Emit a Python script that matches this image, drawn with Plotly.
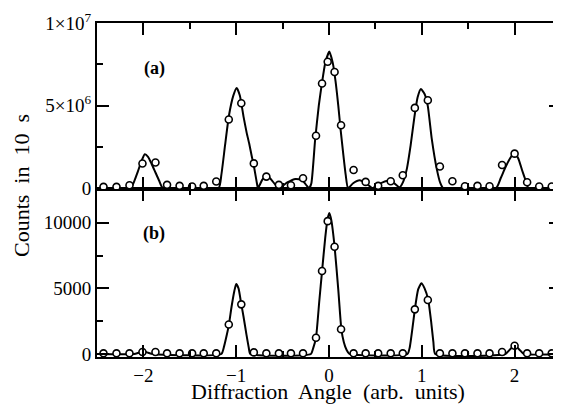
import plotly.graph_objects as go

# measured diffraction angles (common to both panels)
angle = [-2.43, -2.29, -2.15, -2.01, -1.87, -1.745, -1.61, -1.475, -1.35, -1.215,
         -1.08, -0.945, -0.81, -0.675, -0.54, -0.41, -0.28, -0.14, -0.075, -0.014,
         0.06, 0.13, 0.265, 0.395, 0.53, 0.665, 0.795, 0.925, 1.065, 1.195,
         1.33, 1.465, 1.6, 1.73, 1.865, 2.0, 2.135, 2.265, 2.4]

# panel (a) counts, in millions
counts_a_M = [0.08, 0.08, 0.18, 1.49, 1.55, 0.2, 0.14, 0.1, 0.14, 0.4,
              4.16, 5.14, 1.5, 0.7, 0.2, 0.18, 0.6, 3.17, 6.34, 7.65,
              7.03, 3.81, 1.1, 0.38, 0.14, 0.42, 0.78, 4.86, 5.32, 1.31,
              0.42, 0.12, 0.14, 0.12, 1.4, 2.09, 0.36, 0.1, 0.1]

# panel (b) counts
counts_b = [50, 50, 50, 150, 150, 50, 50, 50, 50, 50,
            2250, 3780, 120, 50, 50, 50, 50, 1240, 6320, 10120,
            8170, 1880, 50, 50, 50, 50, 50, 3400, 4110, 50,
            50, 50, 50, 50, 150, 630, 50, 50, 50]

# fitted curve (a), in millions
fit_a_x = [-2.5, -2.14, -2.1, -2.06, -2.02, -1.985, -1.95, -1.91, -1.87, -1.83, -1.79,
           -1.19, -1.16, -1.12, -1.078, -1.031, -0.995, -0.96, -0.92, -0.887, -0.86,
           -0.833, -0.808, -0.78, -0.765,
           -0.72, -0.67, -0.62, -0.54, -0.45, -0.36, -0.29, -0.24, -0.215,
           -0.19, -0.15, -0.11, -0.075, -0.04, 0.003, 0.04, 0.07, 0.1, 0.126, 0.155, 0.18, 0.205,
           0.26, 0.33, 0.4, 0.47, 0.55, 0.63, 0.7, 0.76,
           0.8, 0.84, 0.88, 0.92, 0.955, 0.99, 1.03, 1.064, 1.107, 1.16, 1.2, 1.23,
           1.8, 1.85, 1.9, 1.95, 1.997, 2.04, 2.08, 2.12, 2.15, 2.5]
fit_a_M = [0, 0, 0.4, 1.0, 1.65, 2.05, 1.9, 1.45, 0.95, 0.45, 0,
           0, 0.8, 2.6, 4.4, 5.6, 6.07, 5.6, 4.3, 3.35, 2.7,
           1.95, 1.3, 0.4, 0,
           0.5, 0.78, 0.5, 0, 0.35, 0.56, 0.5, 0.15, 0,
           0.3, 2.9, 5.0, 6.4, 7.6, 8.27, 7.6, 6.5, 5.0, 3.5, 2.0, 0.8, 0,
           0.3, 0.48, 0.3, 0, 0.28, 0.45, 0.3, 0.05,
           0.4, 1.2, 2.6, 4.3, 5.5, 6.0, 5.7, 5.0, 3.0, 1.2, 0.3, 0,
           0, 0.6, 1.25, 1.8, 2.15, 1.8, 1.1, 0.45, 0, 0]

# fitted curve (b)
fit_b_x = [-2.5, -2.1, -2.05, -2.0, -1.95, -1.9,
           -1.16, -1.13, -1.1, -1.078, -1.05, -1.02, -1.0, -0.975, -0.945, -0.92, -0.89, -0.865, -0.848,
           -0.195, -0.17, -0.14, -0.105, -0.075, -0.04, -0.015, 0.003, 0.025, 0.06, 0.1, 0.133, 0.16, 0.19, 0.22,
           0.845, 0.87, 0.9, 0.925, 0.96, 0.995, 1.03, 1.07, 1.1, 1.125, 1.145,
           1.9, 1.95, 2.0, 2.05, 2.1, 2.5]
fit_b = [0, 0, 100, 200, 100, 0,
         0, 600, 1500, 2260, 3600, 4800, 5330, 5000, 3800, 2800, 1500, 500, 0,
         0, 450, 1250, 4000, 6300, 8900, 10300, 10750, 10200, 8200, 4900, 1900, 900, 300, 0,
         0, 500, 2000, 3400, 4900, 5380, 5000, 4100, 2500, 900, 0,
         0, 350, 650, 350, 0, 0]

x_tickvals = [-2, -1, 0, 1, 2]
x_ticktext = ["\u22122", "\u22121", "0", "1", "2"]
ya_tickvals = [0, 5e6, 1e7]
ya_ticktext = ["0", "5\u00d710<sup>6</sup>", "1\u00d710<sup>7</sup>"]
yb_tickvals = [0, 5000, 10000]
yb_ticktext = ["0", "5000", "10000"]

FONT = "Liberation Serif"
OFF = 8  # page body margin
W, H = 561 - OFF, 404 - OFF
# plot area in page pixels: left 97, right 561, top 23, bottom 357
L, R, T = 97 - OFF, 0, 23 - OFF
B = H - (357 - OFF)
pw, ph = W - L - R, H - T - B


def px_x(px):
    return (px - OFF - L) / pw


def px_y(py):
    return (H - B - (py - OFF)) / ph


split = px_y(189)

fig = go.Figure()
fig.add_trace(go.Scatter(x=fit_a_x, y=[v * 1e6 for v in fit_a_M], mode="lines",
                         line=dict(color="black", width=2, shape="spline", smoothing=0.5),
                         xaxis="x2", yaxis="y2", showlegend=False, hoverinfo="skip"))
fig.add_trace(go.Scatter(x=angle, y=[v * 1e6 for v in counts_a_M], mode="markers",
                         marker=dict(symbol="circle", size=7, color="white",
                                     line=dict(color="black", width=1.6)),
                         xaxis="x2", yaxis="y2", showlegend=False))
fig.add_trace(go.Scatter(x=fit_b_x, y=fit_b, mode="lines",
                         line=dict(color="black", width=2, shape="spline", smoothing=0.5),
                         xaxis="x", yaxis="y", showlegend=False, hoverinfo="skip"))
fig.add_trace(go.Scatter(x=angle, y=counts_b, mode="markers",
                         marker=dict(symbol="circle", size=7, color="white",
                                     line=dict(color="black", width=1.6)),
                         xaxis="x", yaxis="y", showlegend=False))

axis_common = dict(showline=True, linecolor="black", linewidth=2, mirror="allticks",
                   ticks="inside", ticklen=12, tickwidth=1.5, tickcolor="black",
                   showgrid=False, zeroline=False, automargin=False,
                   tickfont=dict(family=FONT, size=19, color="black"))

fig.update_layout(
    width=W, height=H,
    margin=dict(l=L, r=R, t=T, b=B, pad=0),
    paper_bgcolor="white", plot_bgcolor="white",
    xaxis=dict(domain=[0, 1], anchor="y", range=[-2.5, 2.5],
               tickvals=x_tickvals, ticktext=x_ticktext,
               minor=dict(ticks="inside", ticklen=6, tickwidth=1.5, tickcolor="black", dtick=0.5, tick0=0.5),
               **axis_common),
    xaxis2=dict(domain=[0, 1], anchor="y2", range=[-2.5, 2.5], matches="x",
                tickvals=x_tickvals, showticklabels=False,
                minor=dict(ticks="inside", ticklen=6, tickwidth=1.5, tickcolor="black", dtick=0.5, tick0=0.5),
                **axis_common),
    yaxis=dict(domain=[0, split], anchor="x", range=[-230, 12570],
               tickvals=yb_tickvals, ticktext=yb_ticktext,
               minor=dict(ticks="inside", ticklen=6, tickwidth=1.5, tickcolor="black", dtick=2500, tick0=0),
               **axis_common),
    yaxis2=dict(domain=[split, 1], anchor="x2", range=[-0.05e6, 1e7],
                tickvals=ya_tickvals, ticktext=ya_ticktext,
                minor=dict(ticks="inside", ticklen=6, tickwidth=1.5, tickcolor="black", dtick=2.5e6, tick0=0),
                **axis_common),
    annotations=[
        dict(text="Diffraction\u00a0 Angle\u00a0 (arb.\u00a0 units)", xref="paper", yref="paper",
             x=px_x(328), y=px_y(391), xanchor="center", yanchor="middle", showarrow=False,
             font=dict(family=FONT, size=22, color="black")),
        dict(text="Counts\u00a0 in\u00a0 10\u00a0 s", xref="paper", yref="paper",
             x=px_x(21), y=px_y(186), xanchor="center", yanchor="middle", showarrow=False,
             textangle=-90, font=dict(family=FONT, size=22, color="black")),
        dict(text="<b>(a)</b>", xref="paper", yref="paper", x=px_x(154), y=px_y(69),
             xanchor="center", yanchor="middle", showarrow=False,
             font=dict(family=FONT, size=18, color="black")),
        dict(text="<b>(b)</b>", xref="paper", yref="paper", x=px_x(154), y=px_y(233),
             xanchor="center", yanchor="middle", showarrow=False,
             font=dict(family=FONT, size=18, color="black")),
    ],
)

fig.write_html("out.html")
